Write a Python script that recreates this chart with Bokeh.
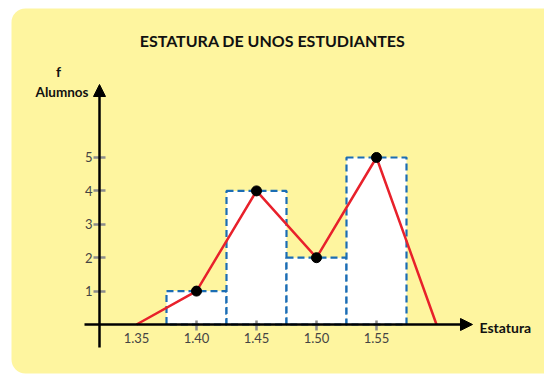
from bokeh.plotting import figure
from bokeh.models import Range1d, LinearAxis, FixedTicker, Arrow, NormalHead, Label
from bokeh.embed import file_html
from bokeh.resources import INLINE

# ---- data ----
heights = [1.40, 1.45, 1.50, 1.55]          # class marks (m)
students = [1, 4, 2, 5]                      # frequency f
bar_width = 0.05
polygon_x = [1.35, 1.40, 1.45, 1.50, 1.55, 1.60]
polygon_y = [0, 1, 4, 2, 5, 0]
x_ticks = [1.40, 1.45, 1.50, 1.55]
x_tick_labels = ["1.40", "1.45", "1.50", "1.55"]
x_start_tick = [1.35]
x_start_label = ["1.35"]
y_ticks = [1, 2, 3, 4, 5]
y_tick_labels = ["1", "2", "3", "4", "5"]
title_text = "ESTATURA DE UNOS ESTUDIANTES"
y_label_top = "f"
y_label = "Alumnos"
x_label = "Estatura"

# ---- layout constants ----
X0, X1 = 1.236667, 1.69
Y0, Y1 = -1.527, 9.7006
YAXIS_X = 1.31917
FONT = "Lato"
H = 375

p = figure(width=544, height=H, output_backend="svg", toolbar_location=None,
           x_range=Range1d(X0, X1), y_range=Range1d(Y0, Y1),
           x_axis_type=None, y_axis_type=None, min_border=0,
           outline_line_color=None, background_fill_color="white",
           border_fill_color="white")

# yellow rounded panel
p.quad(left=[1.245833], right=[1.80], bottom=[-1.467], top=[9.461],
       fill_color="#FEF59F", line_color=None, border_radius=14)

# histogram bars
p.vbar(x=heights, top=students, bottom=0, width=bar_width,
       fill_color="white", line_color="#1B6DB4", line_width=2.2,
       line_dash="7 4")

# frequency polygon
p.line(polygon_x, polygon_y, line_color="#E8212B", line_width=2.5)
p.scatter(heights, students, size=10, fill_color="black", line_color="black")

# axes
label_kw = dict(major_label_text_font=FONT, major_label_text_font_size="13px",
                major_label_text_color="#444444")
xaxis = LinearAxis(ticker=FixedTicker(ticks=x_ticks), fixed_location=0,
                   axis_line_color=None, major_tick_in=4, major_tick_out=6,
                   major_tick_line_color="#8C8C8C", major_tick_line_width=2.5,
                   minor_tick_line_color=None,
                   major_label_overrides=dict(zip(x_ticks, x_tick_labels)),
                   major_label_standoff=3, **label_kw)
p.add_layout(xaxis, "below")
xaxis2 = LinearAxis(ticker=FixedTicker(ticks=x_start_tick), fixed_location=0,
                    axis_line_color=None, major_tick_in=4, major_tick_out=6,
                    major_tick_line_color=None, minor_tick_line_color=None,
                    major_label_overrides=dict(zip(x_start_tick, x_start_label)),
                    major_label_standoff=3, **label_kw)
p.add_layout(xaxis2, "below")
yaxis = LinearAxis(ticker=FixedTicker(ticks=y_ticks), fixed_location=YAXIS_X,
                   axis_line_color=None, major_tick_in=6, major_tick_out=6,
                   major_tick_line_color="#8C8C8C", major_tick_line_width=2.5,
                   minor_tick_line_color=None,
                   major_label_overrides=dict(zip(y_ticks, y_tick_labels)),
                   major_label_standoff=1, **label_kw)
p.add_layout(yaxis, "left")

# axis lines with arrow heads
p.add_layout(Arrow(end=NormalHead(size=12, fill_color="black", line_color="black", line_width=1),
                   x_start=1.30667, y_start=0, x_end=1.63, y_end=0,
                   line_color="black", line_width=2.5))
p.add_layout(Arrow(end=NormalHead(size=12, fill_color="black", line_color="black", line_width=1),
                   x_start=YAXIS_X, y_start=-0.6886, x_end=YAXIS_X, y_end=7.186,
                   line_color="black", line_width=2.5))

# texts (screen units: x = page_x, y = H - page_y)
p.add_layout(Label(x=272, y=H - 40, x_units="screen", y_units="screen", text=title_text,
                   text_font=FONT, text_font_style="bold", text_font_size="16px",
                   text_align="center", text_baseline="middle", text_color="#111111"))
p.add_layout(Label(x=58, y=H - 71, x_units="screen", y_units="screen", text=y_label_top,
                   text_font=FONT, text_font_style="bold", text_font_size="14px",
                   text_align="center", text_baseline="middle", text_color="#111111"))
p.add_layout(Label(x=88, y=H - 91, x_units="screen", y_units="screen", text=y_label,
                   text_font=FONT, text_font_style="bold", text_font_size="13.5px",
                   text_align="right", text_baseline="middle", text_color="#111111"))
p.add_layout(Label(x=479, y=H - 327, x_units="screen", y_units="screen", text=x_label,
                   text_font=FONT, text_font_style="bold", text_font_size="14px",
                   text_align="left", text_baseline="middle", text_color="#111111"))

open("out.html", "w").write(file_html(p, INLINE))
